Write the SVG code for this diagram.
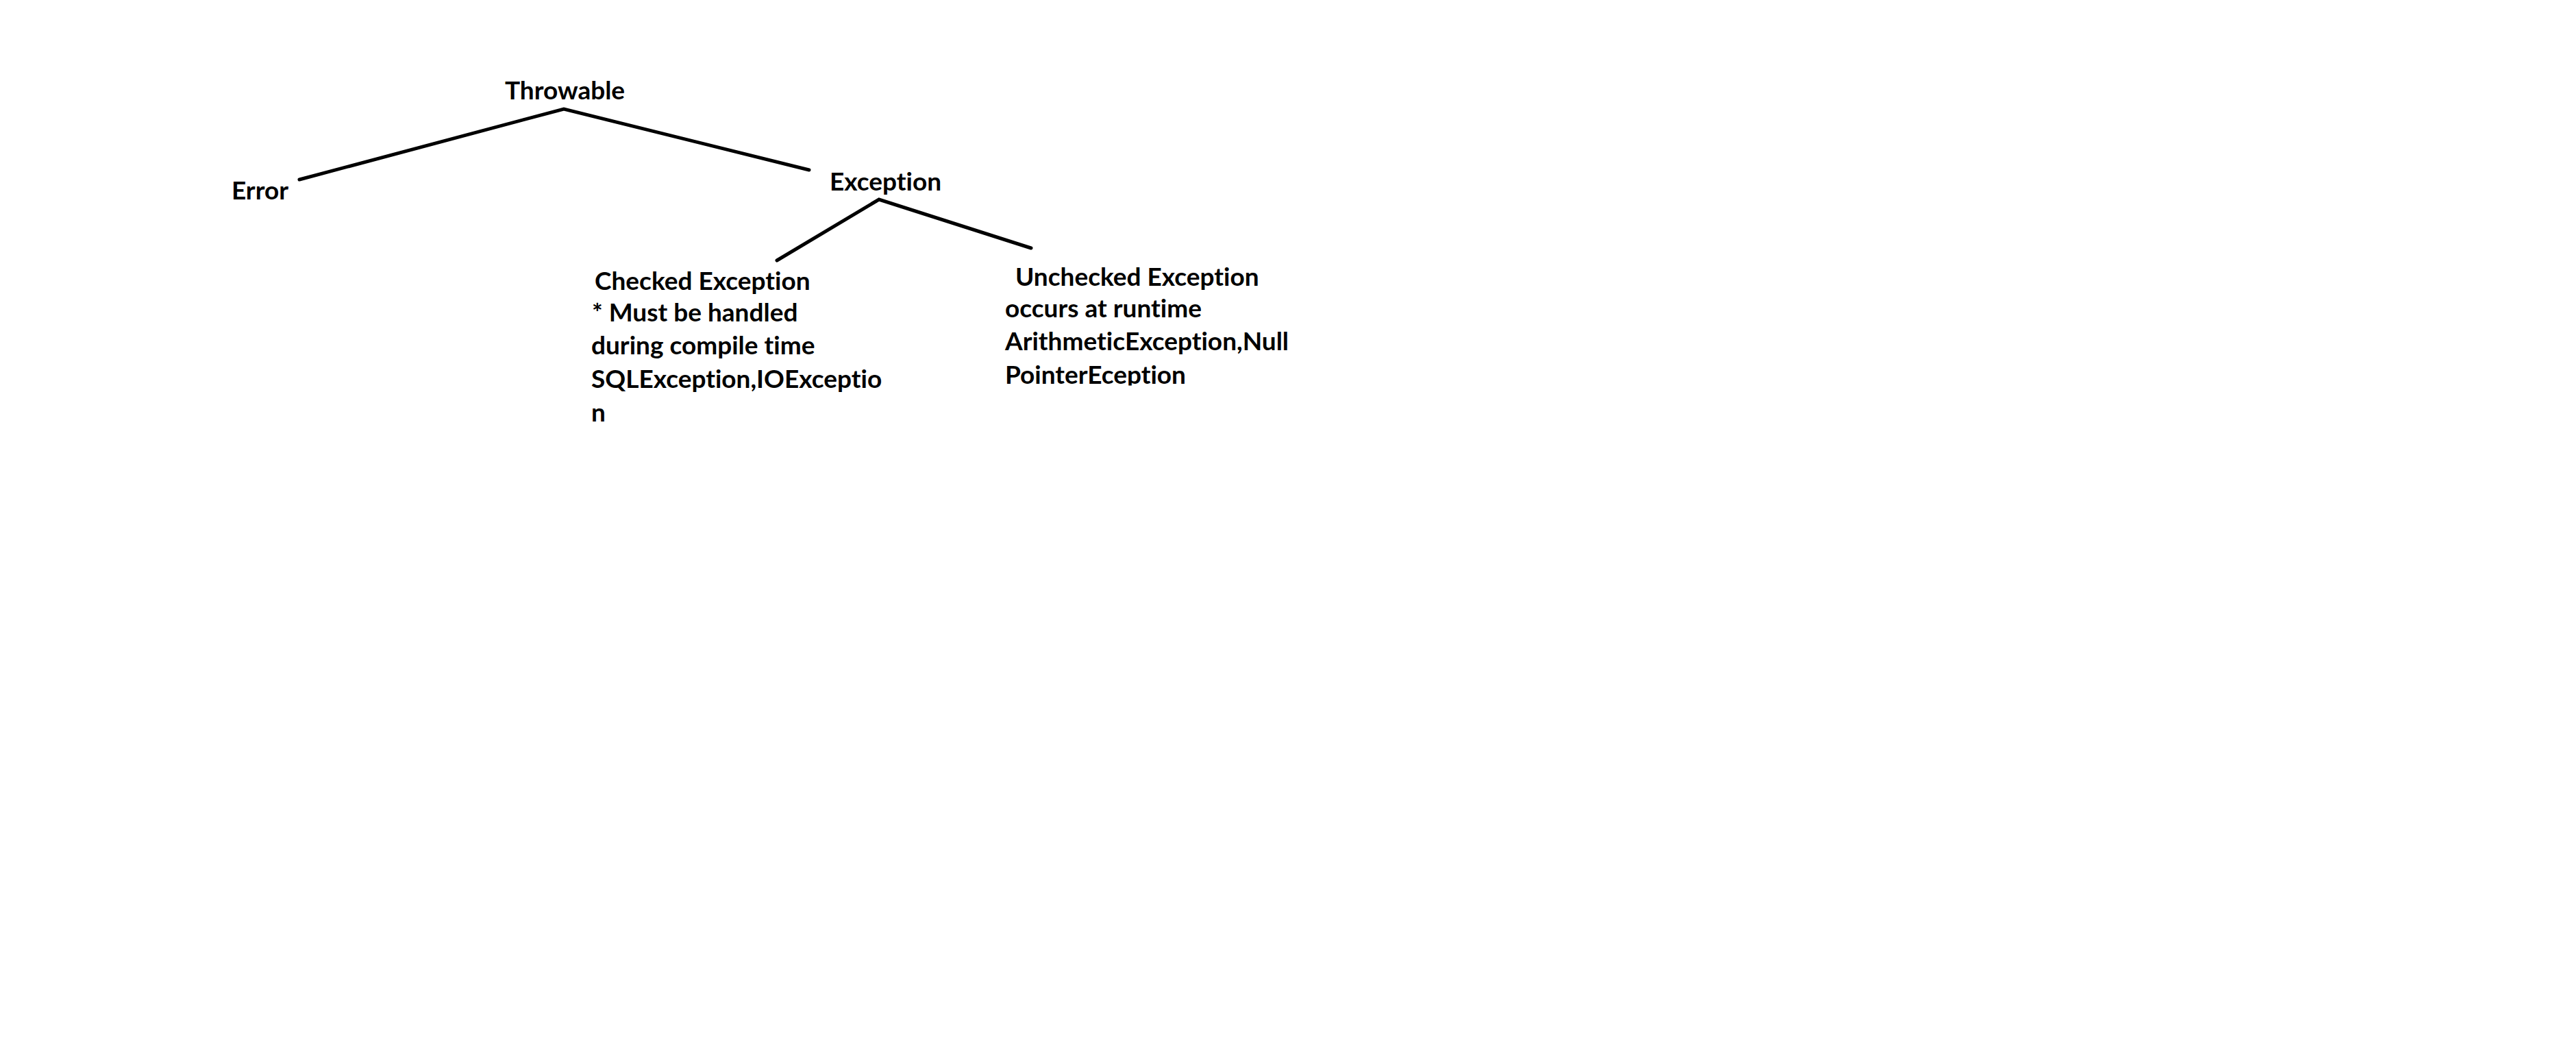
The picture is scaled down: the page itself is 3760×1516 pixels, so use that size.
<svg xmlns="http://www.w3.org/2000/svg" width="3760" height="1516" viewBox="0 0 3760 1516">
  <style>
    .t { font-family: Lato, "Liberation Sans", sans-serif; font-weight: 700; font-size: 37px; fill: #000; font-variant-ligatures: none; font-feature-settings: "liga" 0, "clig" 0; }
    .c { stroke: #000; stroke-width: 5; stroke-linecap: round; stroke-linejoin: miter; fill: none; }
  </style>
  <defs>
    <clipPath id="clipUnchecked">
      <rect x="1440" y="370" width="480" height="192.5"/>
    </clipPath>
  </defs>
  <rect x="0" y="0" width="3760" height="1516" fill="#fff"/>
  <g id="connectors">
    <polyline class="c" points="437,262 823,159 1181,248"/>
    <polyline class="c" points="1134,380 1283,291 1505,362"/>
  </g>
  <g id="node-throwable">
    <text class="t" x="737" y="145">Throwable</text>
  </g>
  <g id="node-error">
    <text class="t" x="338" y="291">Error</text>
  </g>
  <g id="node-exception">
    <text class="t" x="1211" y="278">Exception</text>
  </g>
  <g id="node-checked">
    <text class="t" x="868" y="423">Checked Exception</text>
    <text class="t" x="864" y="469">* Must be handled</text>
    <text class="t" x="863" y="517">during compile time</text>
    <text class="t" x="863" y="566">SQLException,IOExceptio</text>
    <text class="t" x="863" y="615">n</text>
  </g>
  <g id="node-unchecked" clip-path="url(#clipUnchecked)">
    <text class="t" x="1482" y="417">Unchecked Exception</text>
    <text class="t" x="1467" y="463">occurs at runtime</text>
    <text class="t" x="1467" y="511">ArithmeticException,Null</text>
    <text class="t" x="1467" y="560">PointerEception</text>
  </g>
</svg>
